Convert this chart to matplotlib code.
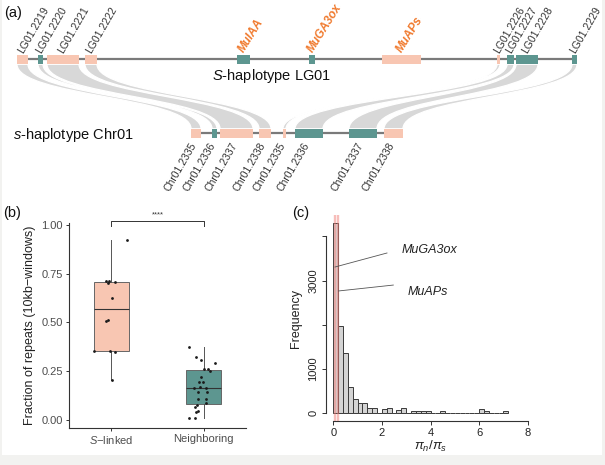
import numpy as np
import matplotlib
matplotlib.use('Agg')
import matplotlib.pyplot as plt
from matplotlib.patches import Rectangle, PathPatch
from matplotlib.path import Path

plt.rcParams['font.family'] = ['Liberation Sans', 'DejaVu Sans']
plt.rcParams['mathtext.fontset'] = 'custom'
plt.rcParams['mathtext.rm'] = 'Liberation Sans'
plt.rcParams['mathtext.it'] = 'Liberation Sans:italic'
plt.rcParams['mathtext.bf'] = 'Liberation Sans:bold'

# ---------------- data: panel (a) synteny ----------------
top_genes = ['LG01.2219', 'LG01.2220', 'LG01.2221', 'LG01.2222', 'MuIAA', 'MuGA3ox',
             'MuAPs', 'LG01.2226', 'LG01.2227', 'LG01.2228', 'LG01.2229']
top_start = [0, 21, 30, 68, 220, 292, 365, 480, 490, 499, 555]
top_end = [11, 26, 62, 80, 233, 298, 404, 483, 497, 521, 560]
top_type = ['rep', 'gene', 'rep', 'rep', 'gene', 'gene', 'rep', 'rep', 'gene', 'gene', 'gene']
top_length = 560

bottom_genes = ['Chr01.2335', 'Chr01.2336', 'Chr01.2337', 'Chr01.2338',
                'Chr01.2335', 'Chr01.2336', 'Chr01.2337', 'Chr01.2338']
bottom_start = [0, 21, 29, 68, 92, 104, 158, 193]
bottom_end = [10, 26, 62, 80, 95, 132, 186, 212]
bottom_type = ['rep', 'gene', 'rep', 'rep', 'rep', 'gene', 'gene', 'rep']
bottom_length = 212

links_top = [0, 1, 2, 3, 7, 8, 9, 10]
links_bottom = [0, 1, 2, 3, 4, 5, 6, 7]
highlight_genes = ['MuIAA', 'MuGA3ox', 'MuAPs']

# ---------------- data: panel (b) repeats ----------------
categories = ['S-linked', 'Neighboring']
s_linked = [0.923, 0.715, 0.712, 0.709, 0.703, 0.627, 0.508, 0.513, 0.356, 0.356, 0.347, 0.205]
s_linked_jitter = [0.166, -0.055, -0.03, 0.044, -0.04, 0.007, -0.055, -0.033, -0.184, -0.011, 0.044, 0.007]
neighboring = [0.376, 0.325, 0.308, 0.294, 0.260, 0.253, 0.260, 0.222, 0.195, 0.193, 0.166, 0.168,
               0.162, 0.142, 0.142, 0.108, 0.108, 0.085, 0.075, 0.065, 0.043, 0.044, 0.009, 0.009]
neighboring_jitter = [-0.158, -0.085, -0.03, 0.125, 0.052, 0.07, 0.0, -0.033, -0.048, -0.004, -0.103, -0.04,
                      0.022, -0.059, 0.04, -0.059, 0.022, 0.03, -0.07, -0.096, -0.085, -0.059, -0.162, -0.088]

# ---------------- data: panel (c) histogram ----------------
bin_width = 0.2
hist_counts = [4310, 1983, 1357, 590, 318, 227, 227, 114, 114, 0, 99, 129, 0, 76, 114, 0,
               45, 45, 53, 53, 0, 0, 53, 0, 0, 0, 0, 0, 0, 0, 91, 53, 0, 0, 0, 53]
marked_genes = ['MuGA3ox', 'MuAPs']
marked_ratio = [0.07, 0.21]

# ---------------- style ----------------
SALMON = '#f8c6b2'
TEAL = '#5d9690'
ORANGE = '#f07a2e'
type_color = {'rep': SALMON, 'gene': TEAL}

fig = plt.figure(figsize=(6.05, 4.65), dpi=100, facecolor='#f2f2f0')
ax0 = fig.add_axes([0, 0, 1, 1])
ax0.set_xlim(0, 605)
ax0.set_ylim(465, 0)
ax0.axis('off')
ax0.add_patch(Rectangle((2, 0), 600, 455, facecolor='white', edgecolor='none', zorder=0))

TOP_X0, TOP_Y = 17, 59.5
BOT_X0, BOT_Y = 191, 133.5
GH = 9.5

# ribbons
for ti, bi in zip(links_top, links_bottom):
    a1, a2 = TOP_X0 + top_start[ti], TOP_X0 + top_end[ti]
    b1, b2 = BOT_X0 + bottom_start[bi], BOT_X0 + bottom_end[bi]
    y1 = TOP_Y + GH / 2
    y2 = BOT_Y - GH / 2
    ym = (y1 + y2) / 2
    verts = [(a1, y1), (a1, ym), (b1, ym), (b1, y2), (b2, y2), (b2, ym), (a2, ym), (a2, y1), (a1, y1)]
    codes = [Path.MOVETO, Path.CURVE4, Path.CURVE4, Path.CURVE4, Path.LINETO,
             Path.CURVE4, Path.CURVE4, Path.CURVE4, Path.CLOSEPOLY]
    ax0.add_patch(PathPatch(Path(verts, codes), facecolor='#d8d8d8', edgecolor='white', lw=0.9, zorder=1))

# tracks
ax0.plot([TOP_X0, TOP_X0 + top_length], [TOP_Y, TOP_Y], color='#7a7a7a', lw=1.6, zorder=2, solid_capstyle='butt')
ax0.plot([BOT_X0, BOT_X0 + bottom_length], [BOT_Y, BOT_Y], color='#7a7a7a', lw=1.6, zorder=2, solid_capstyle='butt')

for name, s, e, t in zip(top_genes, top_start, top_end, top_type):
    ax0.add_patch(Rectangle((TOP_X0 + s, TOP_Y - GH / 2), e - s, GH, facecolor=type_color[t],
                            edgecolor='none', zorder=3))
    xc = TOP_X0 + (s + e) / 2
    if name in highlight_genes:
        ax0.text(xc - 2, 51, name, rotation=58, rotation_mode='anchor', ha='left', va='center',
                 fontsize=8.5, color=ORANGE, fontweight='bold', style='italic')
    else:
        ax0.text(xc - 2, 52, name, rotation=60, rotation_mode='anchor', ha='left', va='center',
                 fontsize=7.5, color='#333333')

for name, s, e, t in zip(bottom_genes, bottom_start, bottom_end, bottom_type):
    ax0.add_patch(Rectangle((BOT_X0 + s, BOT_Y - GH / 2), e - s, GH, facecolor=type_color[t],
                            edgecolor='none', zorder=3))
    xc = BOT_X0 + (s + e) / 2
    ax0.text(xc - 1.5, 143, name, rotation=60, rotation_mode='anchor', ha='right', va='center',
             fontsize=7.5, color='#333333')

ax0.text(212, 76, r'$\mathit{S}$-haplotype LG01', ha='left', va='center', fontsize=10.5, color='#111111')
ax0.text(13, 135, r'$\mathit{s}$-haplotype Chr01', ha='left', va='center', fontsize=10.5, color='#111111')

# panel labels
ax0.text(4, 13, '(a)', ha='left', va='center', fontsize=10.5, color='#111111')
ax0.text(3, 213, '(b)', ha='left', va='center', fontsize=10.5, color='#111111')
ax0.text(292, 213, '(c)', ha='left', va='center', fontsize=10.5, color='#111111')

# ---------------- panel (b) ----------------
axb = fig.add_axes([69 / 605, 1 - 428 / 465, (246 - 69) / 605, (428 - 223) / 465])
axb.set_facecolor('none')
bp = axb.boxplot([s_linked, neighboring], positions=[1, 2], widths=0.375, patch_artist=True,
                 showfliers=False, whis=1.5,
                 medianprops=dict(color='#333333', lw=0.8),
                 boxprops=dict(edgecolor='#666666', lw=0.7),
                 whiskerprops=dict(color='#555555', lw=0.7),
                 capprops=dict(lw=0))
for patch, col in zip(bp['boxes'], [SALMON, TEAL]):
    patch.set_facecolor(col)
axb.scatter(1 + np.array(s_linked_jitter), s_linked, s=4, color='#1a1a1a', zorder=3, linewidths=0)
axb.scatter(2 + np.array(neighboring_jitter), neighboring, s=4, color='#1a1a1a', zorder=3, linewidths=0)
axb.plot([1, 1, 2, 2], [0.995, 1.022, 1.022, 0.995], color='#333333', lw=0.7, clip_on=False)
axb.text(1.5, 1.035, '****', ha='center', va='bottom', fontsize=5.5, color='#333333')
axb.set_xlim(0.54, 2.46)
axb.set_ylim(-0.041, 1.01)
for sp in ['top', 'right']:
    axb.spines[sp].set_visible(False)
for sp in ['left', 'bottom']:
    axb.spines[sp].set_color('#333333')
    axb.spines[sp].set_linewidth(0.8)
axb.set_yticks([0, 0.25, 0.5, 0.75, 1.0])
axb.set_yticklabels(['0.00', '0.25', '0.50', '0.75', '1.00'])
axb.set_xticks([1, 2])
axb.set_xticklabels([r'$\mathit{S}$−linked', 'Neighboring'])
axb.tick_params(axis='both', length=2.5, width=0.7, color='#333333', labelsize=8,
                labelcolor='#4d4d4d', pad=2)
axb.set_ylabel('Fraction of repeats (10kb−windows)', fontsize=9, color='#222222', labelpad=4)

# ---------------- panel (c) ----------------
axc = fig.add_axes([325.5 / 605, 1 - 420.9 / 465, 210 / 605, (420.9 - 215.1) / 465])
axc.set_facecolor('none')
edges = np.arange(len(hist_counts)) * bin_width
axc.bar(edges, hist_counts, width=bin_width, align='edge', color='#d4d4d4', edgecolor='#3a3a3a',
        lw=0.7, zorder=2)
for r in marked_ratio:
    axc.axvline(r, color='#f07c76', alpha=0.5, lw=1.7, zorder=3)
axc.set_xlim(-0.32, 8.32)
axc.set_ylim(-172, 4482)
for sp in ['top', 'right']:
    axc.spines[sp].set_visible(False)
axc.spines['left'].set_bounds(0, 4000)
axc.spines['bottom'].set_bounds(0, 8)
for sp in ['left', 'bottom']:
    axc.spines[sp].set_linewidth(0.8)
    axc.spines[sp].set_color('#333333')
axc.set_xticks([0, 2, 4, 6, 8])
axc.set_yticks([0, 1000, 2000, 3000, 4000])
axc.set_yticklabels(['0', '1000', '', '3000', ''], rotation=90, va='center')
axc.tick_params(axis='both', length=3, width=0.7, color='#333333', labelsize=8, labelcolor='#222222', pad=2)
axc.set_ylabel('Frequency', fontsize=9, color='#222222', labelpad=5)
axc.set_xlabel(r'$\pi_n/\pi_s$', fontsize=9.5, color='#222222', labelpad=1)

# annotations
label_pos = {'MuGA3ox': (3308, 2.21, 3625, 2.83, 3693), 'MuAPs': (2766, 2.47, 2900, 3.04, 2750)}
for g, r in zip(marked_genes, marked_ratio):
    y0, xe, ye, xt, yt = label_pos[g]
    axc.plot([r, xe], [y0, ye], color='#555555', lw=0.6, zorder=4)
    axc.text(xt, yt, g, fontsize=9, style='italic', ha='left', va='center', color='#222222')

fig.savefig('out.png', dpi=100, facecolor=fig.get_facecolor())
